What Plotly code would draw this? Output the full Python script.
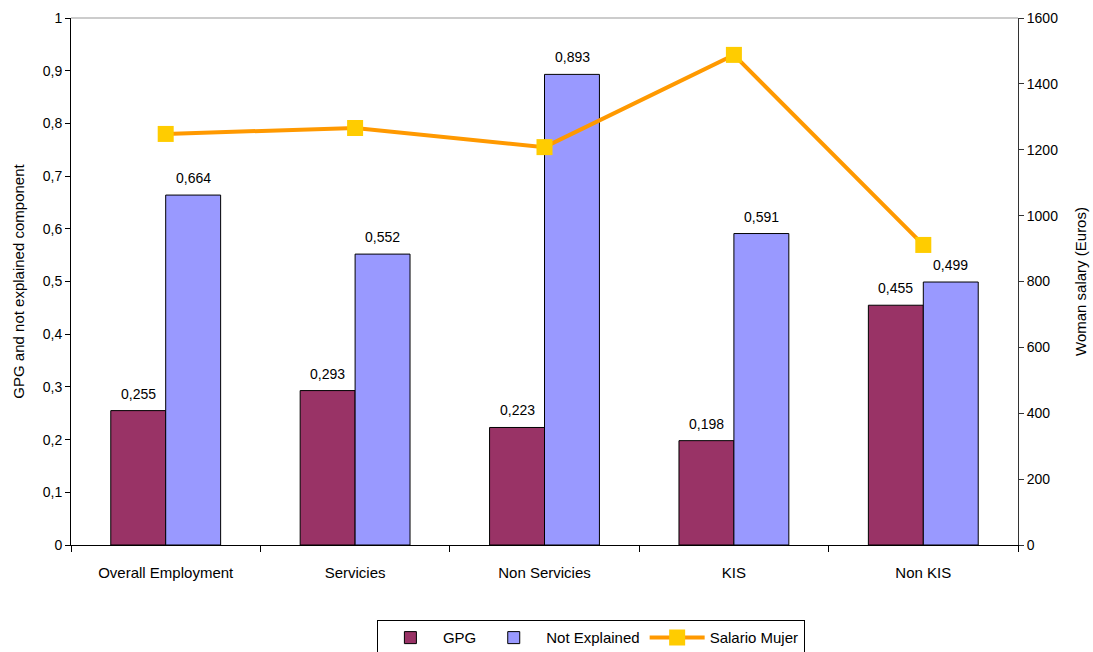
import plotly.graph_objects as go

categories = ["Overall Employment", "Servicies", "Non Servicies", "KIS", "Non KIS"]
gpg = [0.255, 0.293, 0.223, 0.198, 0.455]
not_explained = [0.664, 0.552, 0.893, 0.591, 0.499]
salario_mujer = [1248, 1266, 1208, 1488, 911]

FONT = "Liberation Sans, Arial, sans-serif"

fig = go.Figure()
fig.add_trace(go.Bar(
    x=categories, y=gpg, name="GPG",
    marker=dict(color="#993366", line=dict(color="black", width=1)),
))
fig.add_trace(go.Bar(
    x=categories, y=not_explained, name="Not Explained",
    marker=dict(color="#9999FF", line=dict(color="black", width=1)),
))
fig.add_trace(go.Scatter(
    x=categories, y=salario_mujer, name="Salario Mujer", yaxis="y2",
    mode="lines+markers",
    line=dict(color="#FF9900", width=4),
    marker=dict(symbol="square", size=16, color="#FFCC00"),
    cliponaxis=False,
))

annotations = []
for series, shift in ((gpg, -27.5), (not_explained, 27.5)):
    for cat, val in zip(categories, series):
        annotations.append(dict(
            x=cat, y=val, xref="x", yref="y", text=f"{val:.3f}".replace(".", ","),
            showarrow=False, xshift=shift, yshift=7, yanchor="bottom",
            font=dict(size=14, color="black", family=FONT),
        ))

fig.update_layout(
    width=1093, height=652,
    margin=dict(l=71, r=75, t=18, b=107, autoexpand=False),
    paper_bgcolor="white", plot_bgcolor="white",
    separators=",.",
    font=dict(family=FONT, size=14, color="black"),
    barmode="group", bargap=0.42, bargroupgap=0,
    showlegend=True,
    legend=dict(
        orientation="h", x=0.549, xanchor="center", y=-0.143, yanchor="top",
        bordercolor="black", borderwidth=1, font=dict(size=15, family=FONT),
        traceorder="normal", itemwidth=55,
    ),
    xaxis=dict(
        showline=True, linecolor="black", linewidth=1,
        ticks="outside", ticklen=6, tickcolor="black", tickson="boundaries",
        showgrid=False, tickfont=dict(size=15), ticklabelstandoff=14,
    ),
    yaxis=dict(
        range=[0, 1], dtick=0.1, showline=True, linecolor="black", linewidth=1,
        ticks="outside", ticklen=5, tickcolor="black", showgrid=False, zeroline=False,
        tickfont=dict(size=14),
        title=dict(text="GPG and not explained component", font=dict(size=15), standoff=14),
    ),
    yaxis2=dict(
        range=[0, 1600], dtick=200, overlaying="y", side="right",
        showline=True, linecolor="#333333", linewidth=1,
        ticks="outside", ticklen=5, tickcolor="#333333", showgrid=False, zeroline=False,
        tickfont=dict(size=14),
        title=dict(text="Woman salary (Euros)", font=dict(size=15), standoff=18),
    ),
    annotations=annotations,
    shapes=[dict(type="line", xref="paper", yref="paper", x0=0, x1=1, y0=1, y1=1,
                 line=dict(color="#999999", width=1))],
)

fig.write_html("out.html")
